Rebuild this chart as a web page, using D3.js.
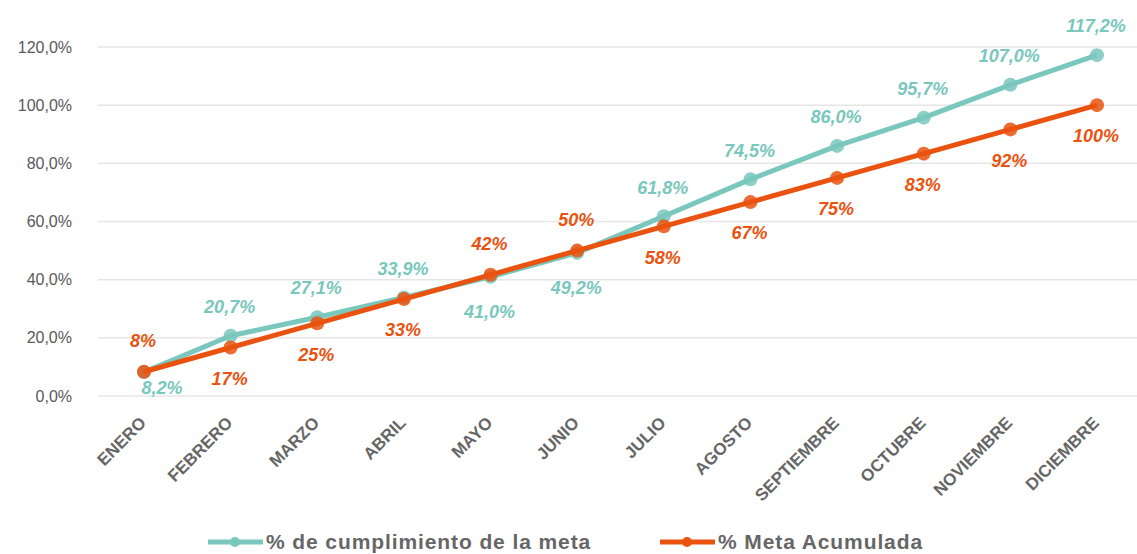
<!DOCTYPE html>
<html>
<head>
<meta charset="utf-8">
<script src="https://cdnjs.cloudflare.com/ajax/libs/d3/7.8.5/d3.min.js"></script>
<style>
  body { margin: 0; background: #fff; }
  svg { font-family: "Liberation Sans", Arial, sans-serif; }
</style>
</head>
<body>
<script>
var meses = ["ENERO","FEBRERO","MARZO","ABRIL","MAYO","JUNIO","JULIO","AGOSTO","SEPTIEMBRE","OCTUBRE","NOVIEMBRE","DICIEMBRE"];
var cumplimiento = [8.2, 20.7, 27.1, 33.9, 41.0, 49.2, 61.8, 74.5, 86.0, 95.7, 107.0, 117.2];
var metaAcumulada = [8.33, 16.67, 25, 33.33, 41.67, 50, 58.33, 66.67, 75, 83.33, 91.67, 100];
var yTicks = [0, 20, 40, 60, 80, 100, 120];
// posicion de etiqueta: true = arriba
var cumplArriba = [false, true, true, true, false, false, true, true, true, true, true, true];

var w = 1137, h = 554;
var teal = "#79c7bd", naranja = "#e9530f", gris = "#666666";

var svg = d3.select("body").append("svg").attr("width", w).attr("height", h);

var x = d3.scalePoint().domain(meses).range([144, 1097]);
var y = d3.scaleLinear().domain([0, 120]).range([396, 47]);

// grilla
svg.selectAll("line.grid").data(yTicks).enter().append("line")
  .attr("x1", 98).attr("x2", w)
  .attr("y1", function(d){ return y(d); }).attr("y2", function(d){ return y(d); })
  .attr("stroke", "#e6e6e6").attr("stroke-width", 1.5);

// eje y
svg.selectAll("text.ytick").data(yTicks).enter().append("text")
  .attr("x", 72).attr("y", function(d){ return y(d); })
  .attr("dy", "0.35em").attr("text-anchor", "end")
  .attr("font-size", 16).attr("fill", "#595959")
  .text(function(d){ return d.toFixed(1).replace(".", ",") + "%"; });

// eje x
svg.selectAll("text.xtick").data(meses).enter().append("text")
  .attr("text-anchor", "end")
  .attr("transform", function(d){ return "translate(" + (x(d) + 3) + ",424) rotate(-45)"; })
  .attr("font-size", 17).attr("font-weight", "bold").attr("fill", gris)
  .text(function(d){ return d; });

var linea = d3.line()
  .x(function(d, i){ return x(meses[i]); })
  .y(function(d){ return y(d); });

function serie(datos, color) {
  svg.append("path").attr("d", linea(datos))
    .attr("fill", "none").attr("stroke", color).attr("stroke-width", 5)
    .attr("stroke-linejoin", "round");
  svg.selectAll(null).data(datos).enter().append("circle")
    .attr("cx", function(d, i){ return x(meses[i]); })
    .attr("cy", function(d){ return y(d); })
    .attr("r", 7).attr("fill", color).attr("opacity", 0.85);
}
serie(cumplimiento, teal);
serie(metaAcumulada, naranja);

// etiquetas
svg.selectAll(null).data(cumplimiento).enter().append("text")
  .attr("x", function(d, i){ return x(meses[i]) + (i === 0 ? 18 : -1); })
  .attr("y", function(d, i){ return y(d) + (cumplArriba[i] ? -29 : (i === 0 ? 16 : 35)); })
  .attr("dy", "0.35em").attr("text-anchor", "middle")
  .attr("font-size", 18).attr("font-weight", "bold").attr("font-style", "italic")
  .attr("fill", teal)
  .text(function(d){ return d.toFixed(1).replace(".", ",") + "%"; });

svg.selectAll(null).data(metaAcumulada).enter().append("text")
  .attr("x", function(d, i){ return x(meses[i]) - 1; })
  .attr("y", function(d, i){ return y(d) + (cumplArriba[i] ? 31 : -31); })
  .attr("dy", "0.35em").attr("text-anchor", "middle")
  .attr("font-size", 18).attr("font-weight", "bold").attr("font-style", "italic")
  .attr("fill", naranja)
  .text(function(d){ return Math.round(d) + "%"; });

// leyenda
var leyenda = [
  {nombre: "% de cumplimiento de la meta", color: teal, x: 208},
  {nombre: "% Meta Acumulada", color: naranja, x: 660}
];
var lg = svg.selectAll("g.ley").data(leyenda).enter().append("g")
  .attr("transform", function(d){ return "translate(" + d.x + ",542)"; });
lg.append("line").attr("x1", 0).attr("x2", 55).attr("y1", 0).attr("y2", 0)
  .attr("stroke", function(d){ return d.color; }).attr("stroke-width", 5);
lg.append("circle").attr("cx", 27).attr("cy", 0).attr("r", 5)
  .attr("fill", function(d){ return d.color; });
lg.append("text").attr("x", 58).attr("y", 0).attr("dy", "0.35em")
  .attr("font-size", 21).attr("font-weight", "bold").attr("letter-spacing", 0.9)
  .attr("fill", gris)
  .text(function(d){ return d.nombre; });
</script>
</body>
</html>
